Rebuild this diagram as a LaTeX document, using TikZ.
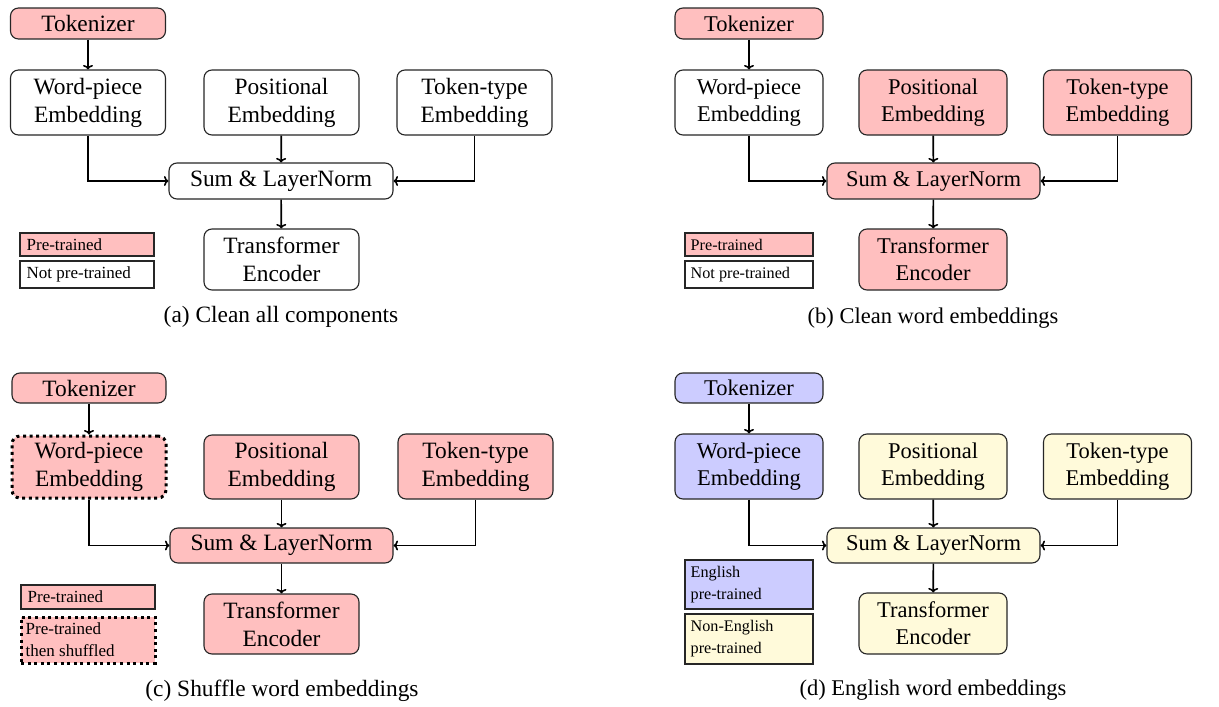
\documentclass[tikz,border=0pt]{standalone}
\usepackage{fontspec}
\setmainfont{Liberation Serif}
\newfontfamily\tnr{Liberation Serif}
\usetikzlibrary{arrows.meta}
\definecolor{pinkf}{RGB}{255,191,191}
\definecolor{bluef}{RGB}{204,204,255}
\definecolor{yelf}{RGB}{255,250,218}
\tikzset{
  box/.style={draw=black!85, line width=1.1pt, rounded corners=8pt, inner sep=0pt, align=center},
  fa/.style={font=\tnr\fontsize{23.4}{28}\selectfont},
  fb/.style={font=\tnr\fontsize{22.5}{27}\selectfont},
  legbox/.style={draw=black!85, line width=1.1pt, inner sep=0pt},
  legtxt/.style={anchor=west, align=left, inner sep=0pt},
  la/.style={font=\tnr\fontsize{17}{22}\selectfont},
  lb/.style={font=\tnr\fontsize{16.2}{22}\selectfont},
  dotbox/.style={draw=black, line width=3pt, dash pattern=on 3pt off 3.6pt},
  arr/.style={-{To[length=4.5pt,width=10pt,line width=1.6pt]}, line width=1.7pt},
  capt/.style={inner sep=0pt}
}
\begin{document}
\begin{tikzpicture}[x=1pt,y=-1pt]
\useasboundingbox (0,0) rectangle (1219,707);
% ---------------- (a)
\begin{scope}[fa]
\node[box, fill=pinkf, minimum width=155pt, minimum height=31pt] (ta) at (88,23.5) {Tokenizer};
\node[box, fill=white, minimum width=155pt, minimum height=65pt] (wa) at (88,102.5) {Word-piece\\Embedding};
\node[box, fill=white, minimum width=155pt, minimum height=65pt] (pa) at (281.5,102.5) {Positional\\Embedding};
\node[box, fill=white, minimum width=155pt, minimum height=65pt] (ya) at (474.5,102.5) {Token-type\\Embedding};
\node[box, fill=white, minimum width=224pt, minimum height=36pt] (sa) at (281,181) {Sum \& LayerNorm};
\node[box, fill=white, minimum width=155pt, minimum height=61pt] (ea) at (281.5,259.5) {Transformer\\Encoder};
\node[capt] (ca) at (281,317) {(a) Clean all components};
\end{scope}
\draw[arr] (ta) -- (wa);
\draw[arr] (wa.south) |- (sa.west);
\draw[arr] (pa) -- (sa);
\draw[arr] (ya.south) |- (sa.east);
\draw[arr] (sa) -- (ea);
\node[legbox, fill=pinkf, minimum width=134pt, minimum height=23pt] (la1) at (87,244.5) {};
\node[legtxt, la] at ([xshift=7pt]la1.west) {Pre-trained};
\node[legbox, fill=white, minimum width=134pt, minimum height=27pt] (la2) at (87,274.5) {};
\node[legtxt, la] at ([xshift=7pt]la2.west) {Not pre-trained};
% ---------------- (b)
\begin{scope}[fb]
\node[box, fill=pinkf, minimum width=148pt, minimum height=31pt] (tb) at (749,23.5) {Tokenizer};
\node[box, fill=white, minimum width=148pt, minimum height=65pt] (wb) at (749,102.5) {Word-piece\\Embedding};
\node[box, fill=pinkf, minimum width=148pt, minimum height=65pt] (pb) at (933,102.5) {Positional\\Embedding};
\node[box, fill=pinkf, minimum width=148pt, minimum height=65pt] (yb) at (1117.5,102.5) {Token-type\\Embedding};
\node[box, fill=pinkf, minimum width=213pt, minimum height=36pt] (sb) at (933.5,181) {Sum \& LayerNorm};
\node[box, fill=pinkf, minimum width=148pt, minimum height=61pt] (eb) at (933,259.5) {Transformer\\Encoder};
\node[capt] (cb) at (933,318) {(b) Clean word embeddings};
\end{scope}
\draw[arr] (tb) -- (wb);
\draw[arr] (wb.south) |- (sb.west);
\draw[arr] (pb) -- (sb);
\draw[arr] (yb.south) |- (sb.east);
\draw[arr] (sb) -- (eb);
\node[legbox, fill=pinkf, minimum width=128pt, minimum height=23pt] (lb1) at (749,244.5) {};
\node[legtxt, lb] at ([xshift=6pt]lb1.west) {Pre-trained};
\node[legbox, fill=white, minimum width=128pt, minimum height=27pt] (lb2) at (749,274.5) {};
\node[legtxt, lb] at ([xshift=6pt]lb2.west) {Not pre-trained};
% ---------------- (c)
\begin{scope}[fa]
\node[box, fill=pinkf, minimum width=154pt, minimum height=30pt] (tc) at (89,388) {Tokenizer};
\node[box, dotbox, fill=pinkf, minimum width=154pt, minimum height=62pt] (wc) at (89,467) {Word-piece\\Embedding};
\node[box, fill=pinkf, minimum width=155pt, minimum height=64pt] (pc) at (281.5,467) {Positional\\Embedding};
\node[box, fill=pinkf, minimum width=155pt, minimum height=65pt] (yc) at (475.5,466.5) {Token-type\\Embedding};
\node[box, fill=pinkf, minimum width=223pt, minimum height=35pt] (sc) at (281.5,545.5) {Sum \& LayerNorm};
\node[box, fill=pinkf, minimum width=155pt, minimum height=60pt] (ec) at (281.5,624) {Transformer\\Encoder};
\node[capt] (cc) at (282,691) {(c) Shuffle word embeddings};
\end{scope}
\draw[arr] (tc) -- (wc);
\draw[arr] (wc.south) |- (sc.west);
\draw[arr] (pc) -- (sc);
\draw[arr] (yc.south) |- (sc.east);
\draw[arr] (sc) -- (ec);
\node[legbox, fill=pinkf, minimum width=134pt, minimum height=24pt] (lc1) at (88,597) {};
\node[legtxt, la] at ([xshift=7pt]lc1.west) {Pre-trained};
\node[legbox, dotbox, fill=pinkf, minimum width=134pt, minimum height=46pt] (lc2) at (88,640) {};
\node[legtxt, la] at ([xshift=6pt]lc2.west) {Pre-trained\\then shuffled};
% ---------------- (d)
\begin{scope}[fb]
\node[box, fill=bluef, minimum width=148pt, minimum height=30pt] (td) at (749,388) {Tokenizer};
\node[box, fill=bluef, minimum width=148pt, minimum height=65pt] (wd) at (749,466.5) {Word-piece\\Embedding};
\node[box, fill=yelf, minimum width=148pt, minimum height=65pt] (pd) at (933,466.5) {Positional\\Embedding};
\node[box, fill=yelf, minimum width=148pt, minimum height=65pt] (yd) at (1117.5,466.5) {Token-type\\Embedding};
\node[box, fill=yelf, minimum width=213pt, minimum height=35pt] (sd) at (933.5,545.5) {Sum \& LayerNorm};
\node[box, fill=yelf, minimum width=148pt, minimum height=61pt] (ed) at (933,623.5) {Transformer\\Encoder};
\node[capt] (cd) at (933,690) {(d) English word embeddings};
\end{scope}
\draw[arr] (td) -- (wd);
\draw[arr] (wd.south) |- (sd.west);
\draw[arr] (pd) -- (sd);
\draw[arr] (yd.south) |- (sd.east);
\draw[arr] (sd) -- (ed);
\node[legbox, fill=bluef, minimum width=128pt, minimum height=49pt] (ld1) at (749,584.5) {};
\node[legtxt, lb] at ([xshift=6pt]ld1.west) {English\\pre-trained};
\node[legbox, fill=yelf, minimum width=128pt, minimum height=50pt] (ld2) at (749,639) {};
\node[legtxt, lb] at ([xshift=6pt]ld2.west) {Non-English\\pre-trained};
\end{tikzpicture}
\end{document}
